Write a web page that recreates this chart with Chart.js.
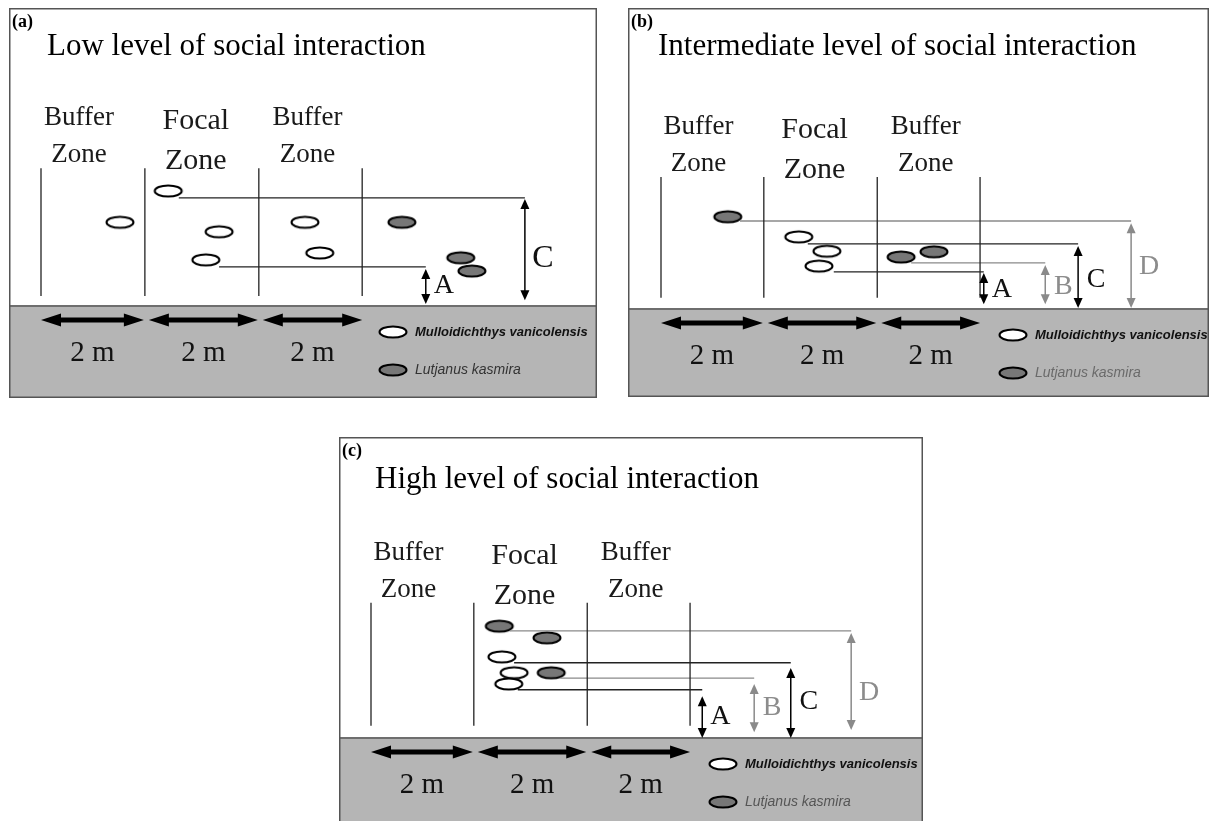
<!DOCTYPE html>
<html lang="en">
<head>
<meta charset="UTF-8">
<title>Levels of social interaction</title>
<script src="https://cdn.jsdelivr.net/npm/chart.js"></script>
<style>
  body { margin: 0; background: #fff; }
  .panel { position: absolute; }
</style>
</head>
<body>
<div class="panel" style="left:9px;top:8px;width:588px;height:390px"><canvas id="chartA"></canvas></div>
<div class="panel" style="left:628px;top:8px;width:581px;height:389px"><canvas id="chartB"></canvas></div>
<div class="panel" style="left:339px;top:437px;width:584px;height:384px"><canvas id="chartC"></canvas></div>

<script>
// all values in metres: x from the left edge of the first buffer zone, y above the bottom
const zoneNames = ['Buffer Zone', 'Focal Zone', 'Buffer Zone'];
const scaleLabel = '2 m';
const speciesNames = ['Mulloidichthys vanicolensis', 'Lutjanus kasmira'];

// (a) low level
const zonesA = [0, 1.96, 4.11, 6.06];
const zoneSpanA = [0.19, 2.60];
const mullA = [[2.40, 2.17], [1.49, 1.58], [3.36, 1.40], [4.98, 1.58], [5.26, 1.00], [3.11, 0.87]];
const lutjA = [[6.81, 1.58], [7.92, 0.91], [8.13, 0.66]];
const measuresA = [
  { name: 'A', y: 0.74, from: 3.36, x: 7.26, top: 0.70, bottom: 0.04, labelY: 0.38 },
  { name: 'C', y: 2.04, from: 2.60, x: 9.13, top: 2.02, bottom: 0.11, labelY: 0.89 }
];

// (b) intermediate level
const zonesB = [0, 1.94, 4.08, 6.02];
const zoneSpanB = [0.21, 2.49];
const mullB = [[2.60, 1.36], [3.13, 1.09], [2.98, 0.81]];
const lutjB = [[1.26, 1.74], [4.53, 0.98], [5.15, 1.08]];
const measuresB = [
  { name: 'A', y: 0.70, from: 3.26, x: 6.09, top: 0.68, bottom: 0.09, labelY: 0.36 },
  { name: 'B', y: 0.87, from: 4.72, x: 7.25, top: 0.83, bottom: 0.09, labelY: 0.43 },
  { name: 'C', y: 1.23, from: 2.77, x: 7.87, top: 1.19, bottom: 0.02, labelY: 0.55 },
  { name: 'D', y: 1.66, from: 1.49, x: 8.87, top: 1.62, bottom: 0.02, labelY: 0.79 }
];

// (c) high level
const zonesC = [0, 1.94, 4.08, 6.02];
const zoneSpanC = [0.23, 2.55];
const mullC = [[2.47, 1.53], [2.70, 1.23], [2.60, 1.02]];
const lutjC = [[2.42, 2.11], [3.32, 1.89], [3.40, 1.23]];
const measuresC = [
  { name: 'A', y: 0.91, from: 2.77, x: 6.25, top: 0.79, bottom: 0.00, labelY: 0.40 },
  { name: 'B', y: 1.13, from: 3.57, x: 7.23, top: 1.02, bottom: 0.11, labelY: 0.57 },
  { name: 'C', y: 1.42, from: 2.70, x: 7.92, top: 1.32, bottom: 0.00, labelY: 0.68 },
  { name: 'D', y: 2.02, from: 2.62, x: 9.06, top: 1.98, bottom: 0.15, labelY: 0.85 }
];

const PX_PER_M = 53;
const SERIF = '"Liberation Serif", "Times New Roman", serif';
const SANS = '"Liberation Sans", Arial, sans-serif';
const GRAY = '#8a8a8a';

function fishImage(fill) {
  const c = document.createElement('canvas');
  c.width = 32; c.height = 16;
  const g = c.getContext('2d');
  g.beginPath();
  g.ellipse(16, 8, 13.5, 5.6, 0, 0, Math.PI * 2);
  g.fillStyle = fill;
  g.fill();
  g.lineWidth = 2;
  g.strokeStyle = '#000';
  g.stroke();
  return c;
}
const whiteFish = fishImage('#ffffff');
const grayFish = fishImage('#777777');

function isGray(name) { return name === 'B' || name === 'D'; }

function lineSet(points, color) {
  return { data: points, showLine: true, borderColor: color, borderWidth: 1.3, pointRadius: 0, fill: false };
}

function vArrow(ctx, x, y0, y1, color) {
  // double headed vertical arrow, y0 above y1 (pixels)
  const h = 10, w = 4.5;
  ctx.strokeStyle = color; ctx.fillStyle = color; ctx.lineWidth = 1.5;
  ctx.beginPath(); ctx.moveTo(x, y0 + h - 1); ctx.lineTo(x, y1 - h + 1); ctx.stroke();
  ctx.beginPath(); ctx.moveTo(x, y0); ctx.lineTo(x - w, y0 + h); ctx.lineTo(x + w, y0 + h); ctx.closePath(); ctx.fill();
  ctx.beginPath(); ctx.moveTo(x, y1); ctx.lineTo(x - w, y1 - h); ctx.lineTo(x + w, y1 - h); ctx.closePath(); ctx.fill();
}

function hArrow(ctx, x0, x1, y) {
  const h = 20, w = 6.5;
  ctx.fillStyle = '#000'; ctx.strokeStyle = '#000'; ctx.lineWidth = 5;
  ctx.beginPath(); ctx.moveTo(x0 + h - 2, y); ctx.lineTo(x1 - h + 2, y); ctx.stroke();
  ctx.beginPath(); ctx.moveTo(x0, y); ctx.lineTo(x0 + h, y - w); ctx.lineTo(x0 + h, y + w); ctx.closePath(); ctx.fill();
  ctx.beginPath(); ctx.moveTo(x1, y); ctx.lineTo(x1 - h, y - w); ctx.lineTo(x1 - h, y + w); ctx.closePath(); ctx.fill();
}

function buildPanel(id, frame, p) {
  const xMin = -(frame.ox - frame.left) / PX_PER_M;
  const xMax = (frame.left + frame.width - frame.ox) / PX_PER_M;
  const yMax = (frame.oy - frame.top) / PX_PER_M;
  const yMin = -(frame.top + frame.height - frame.oy) / PX_PER_M;

  const datasets = [];
  p.zones.forEach(z => datasets.push(lineSet([{ x: z, y: p.span[0] }, { x: z, y: p.span[1] }], '#222')));
  p.measures.forEach(m => datasets.push(lineSet([{ x: m.from, y: m.y }, { x: m.x, y: m.y }], isGray(m.name) ? GRAY : '#222')));
  datasets.push({ data: p.mull.map(([x, y]) => ({ x, y })), pointStyle: whiteFish, pointRadius: 14, showLine: false });
  datasets.push({ data: p.lutj.map(([x, y]) => ({ x, y })), pointStyle: grayFish, pointRadius: 14, showLine: false });

  const diagram = {
    id: 'diagram' + id,
    beforeDatasetsDraw(chart) {
      const { ctx, width, height } = chart;
      const xs = chart.scales.x, ys = chart.scales.y;
      const g = ys.getPixelForValue(0);
      ctx.save();
      ctx.fillStyle = '#fff';
      ctx.fillRect(0, 0, width, height);
      // sea floor
      ctx.fillStyle = '#b5b5b5';
      ctx.fillRect(0, g, width, height - g);
      ctx.strokeStyle = '#6e6e6e'; ctx.lineWidth = 2;
      ctx.beginPath(); ctx.moveTo(0, g); ctx.lineTo(width, g); ctx.stroke();

      // zone names
      const top = ys.getPixelForValue(p.span[1]);
      const shift = [-14, -6, -3];
      ctx.fillStyle = '#1a1a1a';
      ctx.textAlign = 'center'; ctx.textBaseline = 'middle';
      zoneNames.forEach((name, i) => {
        const cx = (xs.getPixelForValue(p.zones[i]) + xs.getPixelForValue(p.zones[i + 1])) / 2 + shift[i];
        const [w1, w2] = name.split(' ');
        const focal = w1 === 'Focal';
        ctx.font = (focal ? '30px ' : '27px ') + SERIF;
        ctx.fillText(w1, cx, top - (focal ? 47 : 50));
        ctx.fillText(w2, cx, top - (focal ? 7 : 13));
      });
      ctx.restore();
    },
    afterDatasetsDraw(chart) {
      const { ctx, width, height } = chart;
      const xs = chart.scales.x, ys = chart.scales.y;
      const g = ys.getPixelForValue(0);
      ctx.save();

      // measured heights
      p.measures.forEach(m => {
        const color = isGray(m.name) ? GRAY : '#000';
        const x = xs.getPixelForValue(m.x);
        vArrow(ctx, x, ys.getPixelForValue(m.top), ys.getPixelForValue(m.bottom), color);
        ctx.fillStyle = isGray(m.name) ? '#8c8c8c' : '#111';
        ctx.font = (p.bigC && m.name === 'C' ? '32px ' : '28px ') + SERIF;
        ctx.textAlign = 'center'; ctx.textBaseline = 'middle';
        ctx.fillText(m.name, x + 18, ys.getPixelForValue(m.labelY));
      });

      // 2 m scale bars
      for (let i = 0; i < 3; i++) {
        const x0 = xs.getPixelForValue(p.zones[i]) + (i ? 4 : 0);
        const x1 = xs.getPixelForValue(p.zones[i + 1]) - (i === 2 ? 0 : 1);
        hArrow(ctx, x0, x1, g + 14);
        ctx.fillStyle = '#111';
        ctx.font = '29px ' + SERIF;
        ctx.textAlign = 'center'; ctx.textBaseline = 'middle';
        ctx.fillText(scaleLabel, (x0 + x1) / 2, g + 47);
      }

      // species key
      const lx = xs.getPixelForValue(0) + 352;
      [whiteFish, grayFish].forEach((img, i) => {
        const ly = g + (i ? 64 : 26);
        ctx.drawImage(img, lx - img.width / 2, ly - img.height / 2);
        ctx.font = (i ? 'italic 14px ' : 'italic bold 13px ') + SANS;
        ctx.fillStyle = i ? p.keyGray : '#111';
        ctx.textAlign = 'left'; ctx.textBaseline = 'middle';
        ctx.fillText(speciesNames[i], lx + 22, ly);
      });

      // headings
      ctx.fillStyle = '#000';
      ctx.textAlign = 'left'; ctx.textBaseline = 'alphabetic';
      ctx.font = '31px ' + SERIF;
      ctx.fillText(p.title, frame.titleX, frame.titleY);
      ctx.font = 'bold 18px ' + SERIF;
      ctx.textBaseline = 'top';
      ctx.fillText(p.letter, 3, 5);

      // frame
      ctx.strokeStyle = '#555'; ctx.lineWidth = 1.5;
      ctx.strokeRect(0.75, 0.75, width - 1.5, height - 1.5 + (frame.open ? 10 : 0));
      ctx.restore();
    }
  };

  new Chart(document.getElementById(id), {
    type: 'scatter',
    data: { datasets },
    options: {
      responsive: true,
      maintainAspectRatio: false,
      animation: false,
      events: [],
      layout: { padding: 0, autoPadding: false },
      plugins: { legend: { display: false }, tooltip: { enabled: false } },
      scales: {
        x: { type: 'linear', min: xMin, max: xMax, display: false },
        y: { type: 'linear', min: yMin, max: yMax, display: false }
      }
    },
    plugins: [diagram]
  });
}

buildPanel('chartA',
  { left: 9, top: 8, width: 588, height: 390, ox: 41, oy: 306, titleX: 38, titleY: 47 },
  { zones: zonesA, span: zoneSpanA, mull: mullA, lutj: lutjA, measures: measuresA, bigC: true,
    title: 'Low level of social interaction', letter: '(a)', keyGray: '#333' });
buildPanel('chartB',
  { left: 628, top: 8, width: 581, height: 389, ox: 661, oy: 309, titleX: 30, titleY: 47 },
  { zones: zonesB, span: zoneSpanB, mull: mullB, lutj: lutjB, measures: measuresB,
    title: 'Intermediate level of social interaction', letter: '(b)', keyGray: '#6a6a6a' });
buildPanel('chartC',
  { left: 339, top: 437, width: 584, height: 384, ox: 371, oy: 738, titleX: 36, titleY: 51, open: true },
  { zones: zonesC, span: zoneSpanC, mull: mullC, lutj: lutjC, measures: measuresC,
    title: 'High level of social interaction', letter: '(c)', keyGray: '#555' });
</script>
</body>
</html>
